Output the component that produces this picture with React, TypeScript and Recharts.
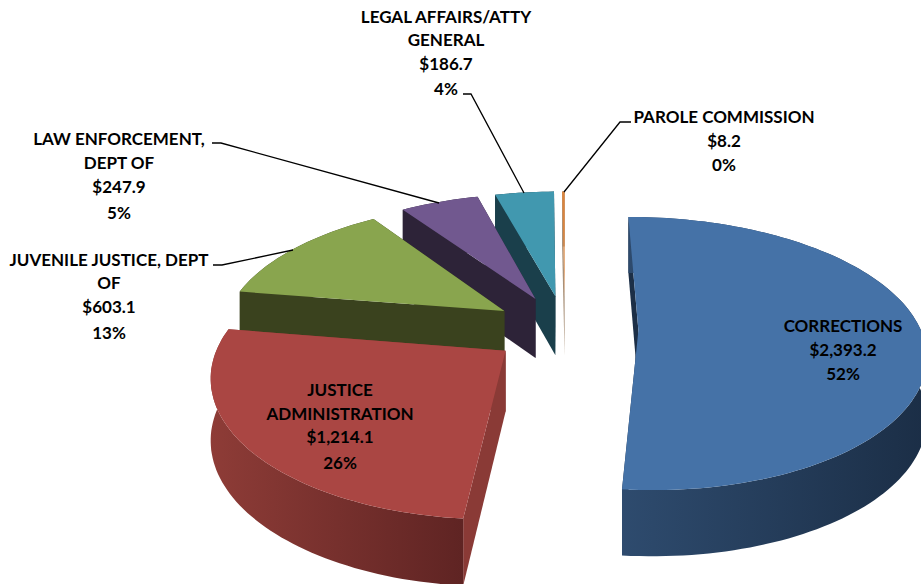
import React from "react";
import { PieChart, Pie } from "recharts";

const categories = [
  "CORRECTIONS",
  "JUSTICE ADMINISTRATION",
  "JUVENILE JUSTICE, DEPT OF",
  "LAW ENFORCEMENT, DEPT OF",
  "LEGAL AFFAIRS/ATTY GENERAL",
  "PAROLE COMMISSION",
];
const amounts = [2393.2, 1214.1, 603.1, 247.9, 186.7, 8.2];
const amountLabels = ["$2,393.2", "$1,214.1", "$603.1", "$247.9", "$186.7", "$8.2"];
const percentLabels = ["52%", "26%", "13%", "5%", "4%", "0%"];

// category names wrapped the way the chart wraps them
const nameLines = [
  ["CORRECTIONS"],
  ["JUSTICE", "ADMINISTRATION"],
  ["JUVENILE JUSTICE, DEPT", "OF"],
  ["LAW ENFORCEMENT,", "DEPT OF"],
  ["LEGAL AFFAIRS/ATTY", "GENERAL"],
  ["PAROLE COMMISSION"],
];

const topColors = ["#4572A7", "#AA4643", "#89A54E", "#71588F", "#4198AF", "#DB843D"];
const innerColors = ["#1C2F47", "#8A3A36", "#3A421E", "#2D2338", "#1A3F4B", "#A89078"];
const wallLeft = ["#2E4B6E", "#8E3C37", "#3A421E", "#2D2338", "#1A3F4B", "#A89078"];
const wallRight = ["#1B2E46", "#5F2423", "#3A421E", "#2D2338", "#1A3F4B", "#A89078"];

// label layout: centre x and centre y of every text line
const labelX = [843, 340, 109, 119, 446, 724];
const labelY = [
  [325, 349, 373],
  [389, 413, 436, 462],
  [259, 282, 306, 332],
  [138, 162, 186, 212],
  [16, 39, 63, 88],
  [116, 140, 164],
];
const leaders: (string | null)[] = [
  null,
  null,
  "213,265 222,265 293,250",
  "212,143 221,143 439,203",
  "463,94 471,94 524,193",
  "631,122 620,122 564,192",
];

// perspective of the tilted pie: x scale is linear in screen y
const EXPLODE = 0.26;
const W0 = 1.014;
const TILT_Y = 0.17;
const TILT_X = 0.16;
const VIEW = 800;

const toRad = (a: number) => (a * Math.PI) / 180;

function project(cx: number, cy: number, R: number, u: number, v: number) {
  return {
    x: cx + (R * u) / (W0 + TILT_X * v),
    y: cy + VIEW * (1 / (W0 + TILT_Y * v) - 1 / W0),
  };
}

const depth = (y: number) => 56 + 0.037 * (y - 217);
const toPath = (pts: { x: number; y: number }[]) =>
  "M" + pts.map((p) => `${p.x.toFixed(1)},${p.y.toFixed(1)}`).join("L") + "Z";
const drop = (p: { x: number; y: number }) => ({ x: p.x, y: p.y + depth(p.y) });

function Slice3D(props: any) {
  const { cx, cy, outerRadius, startAngle, endAngle, midAngle, payload } = props;
  const i = payload.order;
  const mu = EXPLODE * Math.cos(toRad(midAngle));
  const mv = EXPLODE * Math.sin(toRad(midAngle));
  const apex = project(cx, cy, outerRadius, mu, mv);

  const steps = Math.max(2, Math.ceil(Math.abs(endAngle - startAngle) / 1.5));
  const arc = Array.from({ length: steps + 1 }, (_, s) => {
    const t = toRad(startAngle + ((endAngle - startAngle) * s) / steps);
    return project(cx, cy, outerRadius, mu + Math.cos(t), mv + Math.sin(t));
  });
  const first = arc[0];
  const last = arc[arc.length - 1];
  const gradId = `wall-${i}`;

  return (
    <g>
      <defs>
        <linearGradient id={gradId} x1="0" y1="0" x2="1" y2="0">
          <stop offset="0%" stopColor={wallLeft[i]} />
          <stop offset="100%" stopColor={wallRight[i]} />
        </linearGradient>
      </defs>
      <path d={toPath([apex, first, drop(first), drop(apex)])} fill={innerColors[i]} />
      <path d={toPath([apex, last, drop(last), drop(apex)])} fill={innerColors[i]} />
      <path d={toPath([...arc, ...arc.map(drop).reverse()])} fill={`url(#${gradId})`} />
      <path d={toPath([apex, ...arc])} fill={topColors[i]} />
    </g>
  );
}

function SliceLabel(props: any) {
  const i = props.payload.order;
  const lines = [...nameLines[i], amountLabels[i], percentLabels[i]];
  return (
    <g>
      {leaders[i] && <polyline points={leaders[i] as string} fill="none" stroke="#000" strokeWidth={1.3} />}
      {lines.map((line, n) => (
        <text
          key={n}
          x={labelX[i]}
          y={labelY[i][n]}
          textAnchor="middle"
          dominantBaseline="central"
          fontFamily="Lato, 'Open Sans', sans-serif"
          fontWeight={700}
          fontSize={17}
          fill="#000"
        >
          {line}
        </text>
      ))}
    </g>
  );
}

// reversed so slices paint back to front, running counter-clockwise from the top
const tableData = categories
  .map((name, order) => ({ name, value: amounts[order], order }))
  .reverse();

export default function App() {
  return (
    <div style={{ position: "absolute", left: 0, top: 0, width: 921, height: 584, overflow: "hidden", background: "#fff" }}>
      <PieChart width={921} height={584} margin={{ top: 0, right: 0, bottom: 0, left: 0 }}>
        <Pie
          data={tableData}
          dataKey="value"
          nameKey="name"
          cx={565}
          cy={329}
          innerRadius={0}
          outerRadius={286}
          startAngle={90}
          endAngle={450}
          stroke="none"
          isAnimationActive={false}
          shape={Slice3D}
          label={SliceLabel}
          labelLine={false}
        />
      </PieChart>
    </div>
  );
}
